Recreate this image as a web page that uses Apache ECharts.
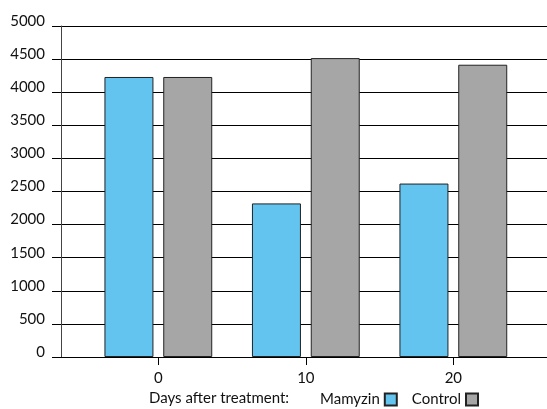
<!DOCTYPE html>
<html style="height: 100%">
    <head>
        <meta charset="utf-8">
    </head>
    <body style="height: 100%; margin: 0">
        <div id="container" style="height: 100%"></div>

        <script type="text/javascript" src="https://cdn.jsdelivr.net/npm/echarts@6/dist/echarts.min.js"></script>
        <script type="text/javascript">

var dom = document.getElementById("container");
var myChart = echarts.init(dom);

var days = [0, 10, 20];
var mamyzin = [4230, 2320, 2620];
var control = [4230, 4515, 4415];

var font = 'Lato, "Open Sans", sans-serif';

var option = {
    animation: false,
    title: {
        text: 'Days after treatment:',
        left: 149,
        top: 391,
        padding: 0,
        textStyle: { fontFamily: font, fontSize: 15, fontWeight: 'normal', color: '#111' }
    },
    legend: {
        left: 320,
        top: 392,
        padding: 0,
        align: 'right',
        icon: 'rect',
        itemWidth: 12,
        itemHeight: 12,
        itemGap: 14,
        textStyle: { fontFamily: font, fontSize: 15, color: '#111' },
        data: ['Mamyzin', 'Control']
    },
    grid: { left: 61, right: 0, top: 26, bottom: 52 },
    xAxis: {
        type: 'value',
        min: -6.6,
        max: 26.35,
        axisLine: { onZero: false, lineStyle: { color: '#000', width: 1 } },
        axisTick: { length: 8, customValues: days, lineStyle: { color: '#000' } },
        axisLabel: { customValues: days, margin: 14, fontFamily: font, fontSize: 15, color: '#111' },
        splitLine: { show: false }
    },
    yAxis: {
        type: 'value',
        min: 0,
        max: 5000,
        interval: 500,
        axisLine: { show: true, onZero: false, lineStyle: { color: '#444', width: 1 } },
        axisTick: { show: true, length: 9, lineStyle: { color: '#000' } },
        axisLabel: {
            margin: 16, fontFamily: font, fontSize: 15, color: '#111',
            verticalAlign: 'bottom', lineHeight: 10,
            formatter: function (v) { return String(v); }
        },
        splitLine: { show: true, lineStyle: { color: '#000', width: 1 } }
    },
    series: [
        {
            name: 'Mamyzin',
            type: 'bar',
            barWidth: 49,
            barGap: '20%',
            itemStyle: { color: '#63c4f0', borderColor: '#222', borderWidth: 1 },
            data: days.map(function (d, i) { return [d, mamyzin[i]]; })
        },
        {
            name: 'Control',
            type: 'bar',
            barWidth: 49,
            barGap: '20%',
            itemStyle: { color: '#a6a6a6', borderColor: '#222', borderWidth: 1 },
            data: days.map(function (d, i) { return [d, control[i]]; })
        }
    ]
};

myChart.setOption(option);

        </script>
    </body>
</html>
